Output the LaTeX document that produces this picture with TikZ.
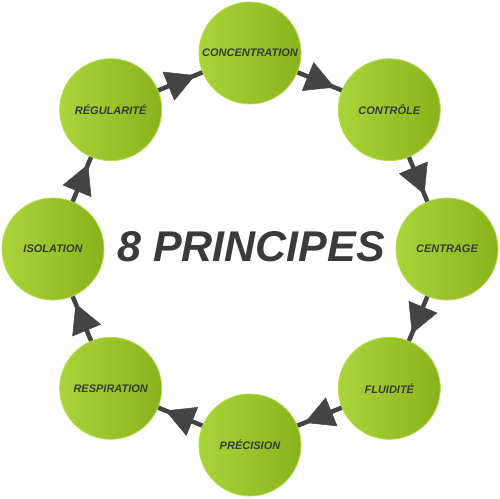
\documentclass[tikz,border=0pt]{standalone}
\usepackage{fontspec}
\setmainfont{Liberation Sans}
\usetikzlibrary{arrows.meta,decorations.markings,calc}
\definecolor{glight}{HTML}{A9D43A}
\definecolor{gdark}{HTML}{89B31A}
\definecolor{gborder}{HTML}{B6DC4E}
\definecolor{txt}{HTML}{3A3A3A}
\definecolor{arr}{HTML}{444444}
\begin{document}
\begin{tikzpicture}[x=1pt,y=1pt,
  principle/.style={circle, minimum size=102pt, inner sep=0pt,
    left color=glight, right color=gdark, draw=gborder, line width=0.8pt,
    font=\fontsize{11}{13}\selectfont\bfseries\itshape, text=txt},
  flow/.style={draw=arr, line width=4.5pt, postaction={decorate},
    decoration={markings, mark=at position 0.84 with
      {\arrow{Triangle[length=29pt,width=31pt,line width=0.5pt]}}}}]
\useasboundingbox (0,0) rectangle (500,498);
\coordinate (o) at (250,249);
\node[principle] (c1) at ($(o)+(90:196)$) {CONCENTRATION};
\node[principle] (c2) at ($(o)+(45:197)$) {CONTRÔLE};
\node[principle] (c3) at ($(o)+(0:197)$) {CENTRAGE};
\node[principle] (c4) at ($(o)+(-45:197)$) {FLUIDITÉ};
\node[principle] (c5) at ($(o)+(-90:196)$) {PRÉCISION};
\node[principle] (c6) at ($(o)+(-135:197)$) {RESPIRATION};
\node[principle] (c7) at ($(o)+(180:197)$) {ISOLATION};
\node[principle] (c8) at ($(o)+(135:197)$) {RÉGULARITÉ};
\node[font=\fontsize{43}{48}\selectfont\bfseries\itshape, text=txt] (title) at (251,251) {8 PRINCIPES};
\draw[flow] (c1) -- (c2);
\draw[flow] (c2) -- (c3);
\draw[flow] (c3) -- (c4);
\draw[flow] (c4) -- (c5);
\draw[flow] (c5) -- (c6);
\draw[flow] (c6) -- (c7);
\draw[flow] (c7) -- (c8);
\draw[flow] (c8) -- (c1);
\end{tikzpicture}
\end{document}
